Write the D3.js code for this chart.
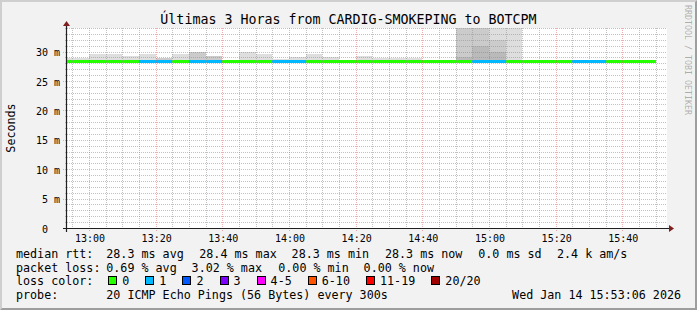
<!DOCTYPE html>
<html><head><meta charset="utf-8">
<script src="https://cdn.jsdelivr.net/npm/d3@7"></script>
<style>
html,body{margin:0;padding:0;background:#f2f2f2;}
svg{display:block;}
text{font-family:"DejaVu Sans Mono",monospace;fill:#000;}
</style></head><body>
<svg id="chart" width="697" height="310"></svg>
<script>
// ---------------- data ----------------
const titleText = "Últimas 3 Horas from CARDIG-SMOKEPING to BOTCPM";
const yAxisTitle = "Seconds";
const watermarkText = "RRDTOOL / TOBI OETIKER";
const windowStart = "2026-01-14 12:53:06";
const windowEnd   = "2026-01-14 15:53:06";
const stepEnds = ["12:55","13:00","13:05","13:10","13:15","13:20","13:25","13:30","13:35","13:40","13:45","13:50",
                  "13:55","14:00","14:05","14:10","14:15","14:20","14:25","14:30","14:35","14:40","14:45","14:50",
                  "14:55","15:00","15:05","15:10","15:15","15:20","15:25","15:30","15:35","15:40","15:45","15:50"];
const medianMs = [28.33,28.33,28.36,28.35,28.33,28.32,28.33,28.36,28.33,28.32,28.33,28.36,
                  28.33,28.32,28.33,28.35,28.33,28.33,28.34,28.33,28.33,28.33,28.32,28.33,
                  28.37,28.34,28.36,28.33,28.32,28.33,28.33,28.32,28.33,28.33,28.32,28.33];
const lossCount = [0,0,0,0,0,1,1,0,1,1,0,0,
                   0,1,1,0,0,0,0,0,0,0,0,0,
                   0,1,1,0,0,0,0,1,1,0,0,0];
// smoke: outer (light), middle (medium) and core (dark) upper edges, ms
const smokeMaxMs  = [29.0,29.0,29.6,29.6,29.25,29.6,29.0,29.6,30.0,29.25,null,30.0,
                     29.75,28.9,29.2,29.75,29.2,null,29.4,29.0,29.0,29.0,null,null,
                     41.5,38.0,44.0,36.5,null,null,null,null,null,null,null,null];
const smokeMidMs  = [null,null,null,null,null,null,29.0,null,30.0,29.25,null,null,
                     null,null,null,null,null,null,null,null,null,null,null,null,
                     41.5,38.0,32.0,null,null,null,null,null,null,null,null,null];
const smokeCoreMs = [null,null,null,null,null,null,null,null,null,null,null,null,
                     null,null,null,null,null,null,null,null,null,null,null,null,
                     29.1,31.0,30.0,null,null,null,null,null,null,null,null,null];
const yTickValues = [0,5,10,15,20,25,30];
const xTickLabels = ["13:00","13:20","13:40","14:00","14:20","14:40","15:00","15:20","15:40"];
const lossUpper  = [0,1,2,3,5,10,19,20];
const lossLabels = ["0","1","2","3","4-5","6-10","11-19","20/20"];
const lossColors = ["#26ff00","#00b8ff","#0059ff","#7e00ff","#ff00ff","#ff5500","#ff0000","#a10000"];
const rttStats  = ["28.3 ms avg","28.4 ms max","28.3 ms min","28.3 ms now","0.0 ms sd","2.4 k am/s"];
const lossStats = ["0.69 % avg","3.02 % max","0.00 % min","0.00 % now"];
const probeText = "20 ICMP Echo Pings (56 Bytes) every 300s";
const stampText = "Wed Jan 14 15:53:06 2026";

// ---------------- layout ----------------
const W = 697, H = 310;
const X0 = 67, Y0 = 228, XS = 600, YS = 200;
const svg = d3.select("#chart");
const parseFull = d3.timeParse("%Y-%m-%d %H:%M:%S");
const parseHM = s => parseFull("2026-01-14 " + s + ":00");
const x = d3.scaleTime().domain([parseFull(windowStart), parseFull(windowEnd)]).range([X0 - 0.5, X0 + XS - 0.5]);
const y = d3.scaleLinear().domain([0, 34]).range([Y0 + 0.5, Y0 - YS + 0.5]);
const px = v => Math.floor(v);
const lineY = v => Math.round(y(v)) - 0.5;
const color = l => lossColors[lossUpper.findIndex(u => l <= u)];

// background + 3d border
svg.append("rect").attr("width", W).attr("height", H).attr("fill", "#f2f2f2");
svg.append("path").attr("fill", "#cfcfcf")
  .attr("d", `M0,${H}L2,${H-2}L2,2L${W-2},2L${W},0L0,0Z`);
svg.append("path").attr("fill", "#9e9e9e")
  .attr("d", `M2,${H-2}L${W-2},${H-2}L${W-2},2L${W},0L${W},${H}L0,${H}Z`);

// canvas
svg.append("rect").attr("x", X0).attr("y", Y0 - YS).attr("width", XS).attr("height", YS).attr("fill", "#fff");
svg.append("clipPath").attr("id", "plotclip").append("rect")
  .attr("x", X0).attr("y", Y0 - YS).attr("width", XS).attr("height", YS);

const steps = stepEnds.map((s, i) => {
  const end = parseHM(s);
  const start = d3.timeMinute.offset(end, -5);
  return {start, end, med: medianMs[i], loss: lossCount[i],
          hi: smokeMaxMs[i], mid: smokeMidMs[i], core: smokeCoreMs[i]};
});

const plot = svg.append("g").attr("clip-path", "url(#plotclip)");
const layers = [["hi", "#dedede"], ["mid", "#cbcbcb"], ["core", "#bababa"]];
layers.forEach(([key, fill]) => {
  plot.append("g").selectAll("rect").data(steps.filter(d => d[key] != null)).join("rect")
    .attr("x", d => px(x(d.start)))
    .attr("width", d => px(x(d.end)) - px(x(d.start)))
    .attr("y", d => Math.round(y(d[key])))
    .attr("height", d => Math.max(0, lineY(d.med) - Math.round(y(d[key]))))
    .attr("fill", fill).attr("shape-rendering", "crispEdges");
});

// grid
const grid = svg.append("g");
const minorY = d3.range(0, 35, 1).filter(v => v % 5 !== 0);
grid.selectAll("line.ymin").data(minorY).join("line")
  .attr("x1", X0 - 2).attr("x2", X0 + XS)
  .attr("y1", d => px(y(d)) + 0.5).attr("y2", d => px(y(d)) + 0.5)
  .attr("stroke", "#8f8f8f").attr("stroke-opacity", 0.55).attr("stroke-dasharray", "1,1");
const tStart = parseFull(windowStart), tEnd = parseFull(windowEnd);
const minorX = d3.timeMinute.every(5).range(tStart, tEnd).filter(t => t.getMinutes() % 20 !== 0);
grid.selectAll("line.xmin").data(minorX).join("line")
  .attr("x1", d => px(x(d)) + 0.5).attr("x2", d => px(x(d)) + 0.5)
  .attr("y1", Y0 - YS).attr("y2", Y0 + 2)
  .attr("stroke", "#8f8f8f").attr("stroke-opacity", 0.55).attr("stroke-dasharray", "1,1");
grid.selectAll("line.ymaj").data(yTickValues.filter(v => v > 0)).join("line")
  .attr("x1", X0 - 4).attr("x2", X0 + XS)
  .attr("y1", d => px(y(d)) + 0.5).attr("y2", d => px(y(d)) + 0.5)
  .attr("stroke", "#de4f4f").attr("stroke-opacity", 0.45).attr("stroke-dasharray", "1,1");
const majorX = xTickLabels.map(parseHM);
grid.selectAll("line.xmaj").data(majorX).join("line")
  .attr("x1", d => px(x(d)) + 0.5).attr("x2", d => px(x(d)) + 0.5)
  .attr("y1", Y0 - YS).attr("y2", Y0 + 3)
  .attr("stroke", "#de4f4f").attr("stroke-opacity", 0.45).attr("stroke-dasharray", "1,1");

// median line coloured by loss
plot.append("g").selectAll("line").data(steps).join("line")
  .attr("x1", d => px(x(d.start))).attr("x2", d => px(x(d.end)))
  .attr("y1", d => lineY(d.med)).attr("y2", d => lineY(d.med))
  .attr("stroke", d => color(d.loss)).attr("stroke-width", 3)
  .attr("shape-rendering", "crispEdges");

// axes lines + arrows
svg.append("line").attr("x1", X0 - 4).attr("x2", X0 + XS + 4).attr("y1", Y0 + 0.5).attr("y2", Y0 + 0.5)
  .attr("stroke", "#1f1f1f").attr("stroke-width", 1.2);
svg.append("line").attr("x1", X0 - 0.5).attr("x2", X0 - 0.5).attr("y1", Y0 + 4).attr("y2", Y0 - YS - 4)
  .attr("stroke", "#1f1f1f").attr("stroke-width", 1.2);
svg.append("path").attr("fill", "#801f1f")
  .attr("d", `M${X0+XS+2},${Y0-3}L${X0+XS+2},${Y0+4}L${X0+XS+7},${Y0+0.5}Z`);
svg.append("path").attr("fill", "#801f1f")
  .attr("d", `M${X0-4},${Y0-YS-2}L${X0+3},${Y0-YS-2}L${X0-0.5},${Y0-YS-7}Z`);

// y axis labels (d3 axis)
const yAx = svg.append("g").attr("transform", `translate(${X0 - 7},0)`)
  .call(d3.axisLeft(y).tickValues(yTickValues).tickSize(0).tickPadding(0)
    .tickFormat(v => v === 0 ? "0" : v + " m"));
yAx.select(".domain").remove();
yAx.selectAll("text").attr("font-family", "DejaVu Sans Mono").attr("font-size", "10px")
  .attr("fill", "#000").attr("dy", "3.6")
  .attr("x", d => d === 0 ? -12.04 : 0);

// x axis labels (d3 axis)
const xAx = svg.append("g").attr("transform", `translate(0,${Y0})`)
  .call(d3.axisBottom(x).tickValues(majorX).tickSize(0).tickPadding(0)
    .tickFormat(d3.timeFormat("%H:%M")));
xAx.select(".domain").remove();
xAx.selectAll("text").attr("font-family", "DejaVu Sans Mono").attr("font-size", "10px")
  .attr("fill", "#000").attr("y", 13.5).attr("dy", 0);

// title
svg.append("text").attr("x", W / 2).attr("y", 24).attr("text-anchor", "middle")
  .attr("font-size", "13.3px").text(titleText);

// vertical label
svg.append("text").attr("transform", "translate(15,128) rotate(-90)").attr("text-anchor", "middle")
  .attr("font-size", "11.7px").text(yAxisTitle);

// watermark
svg.append("text").attr("transform", "translate(684.5,5) rotate(90)")
  .attr("font-size", "8.3px").style("fill", "rgba(0,0,0,0.3)").text(watermarkText);

// legend
const LF = "11.7px";
const lg = svg.append("g").attr("font-size", LF);
const rows = [258, 271.5, 285, 298.5];
lg.append("text").attr("x", 16).attr("y", rows[0]).text("median rtt:");
const rttX = [106.3, 199.3, 291.6, 385, 478.3, 557];
lg.selectAll("text.rtt").data(rttStats).join("text").attr("class", "rtt")
  .attr("x", (d, i) => rttX[i]).attr("y", rows[0]).text(d => d);
lg.append("text").attr("x", 16).attr("y", rows[1]).text("packet loss:");
const lossX = [106.3, 191.6, 278.3, 363.6];
lg.selectAll("text.ls").data(lossStats).join("text").attr("class", "ls")
  .attr("x", (d, i) => lossX[i]).attr("y", rows[1]).text(d => d);
lg.append("text").attr("x", 16).attr("y", rows[2]).text("loss color:");
let bx = 108.2;
const boxes = lossLabels.map((l, i) => {
  const r = {x: bx, label: l, color: lossColors[i]};
  bx += 30.05 + 7.05 * l.length;
  return r;
});
lg.selectAll("rect.sw").data(boxes).join("rect").attr("class", "sw")
  .attr("x", d => Math.round(d.x) + 0.5).attr("y", 276.5).attr("width", 8).attr("height", 8)
  .attr("fill", d => d.color).attr("stroke", "#000").attr("stroke-width", 1);
lg.selectAll("text.sl").data(boxes).join("text").attr("class", "sl")
  .attr("x", d => d.x + 14).attr("y", rows[2]).text(d => d.label);
lg.append("text").attr("x", 16).attr("y", rows[3]).text("probe:");
lg.append("text").attr("x", 106.3).attr("y", rows[3]).text(probeText);
lg.append("text").attr("x", 681).attr("y", rows[3]).attr("text-anchor", "end").text(stampText);
</script>
</body></html>
